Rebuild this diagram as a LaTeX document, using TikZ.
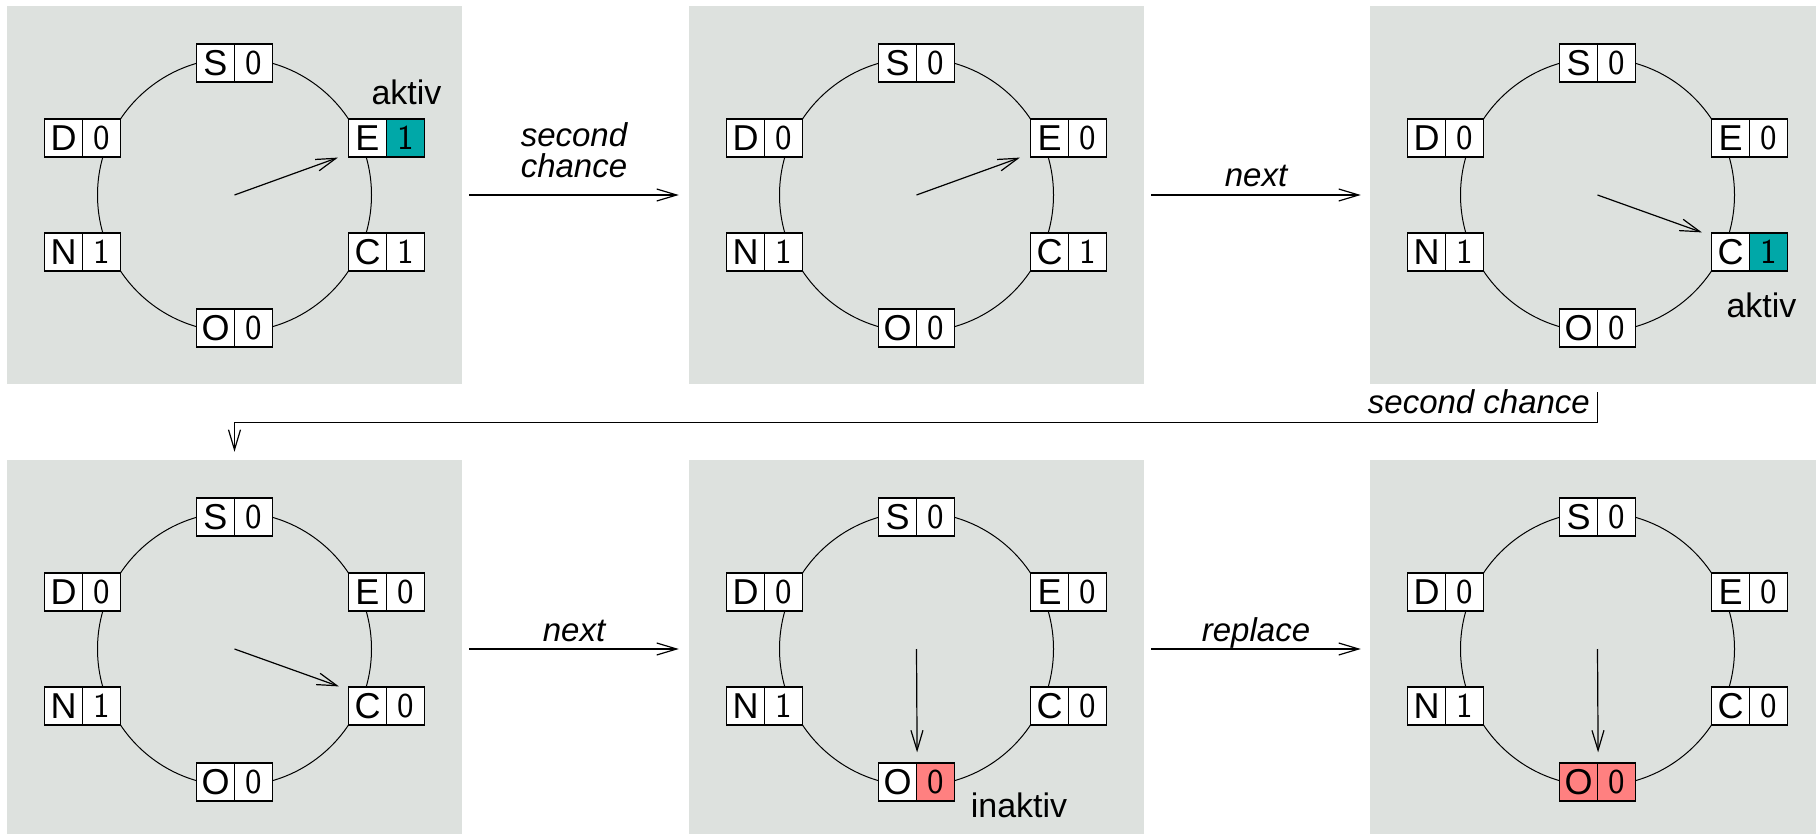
\documentclass[tikz,border=0pt]{standalone}
\usepackage{fontspec}
\setmainfont{Liberation Sans}
\usetikzlibrary{arrows.meta}
\definecolor{panelgray}{RGB}{221,225,222}
\definecolor{activeteal}{RGB}{0,168,168}
\definecolor{inactivered}{RGB}{255,128,128}
\newcommand\cellbox[7]{%
  \node[lettercell, fill=#6] (#1l) at ({#2-19},#3) {#4};
  \node[bitcell, fill=#7] (#1b) at ({#2+19},#3) {#5};}
\begin{document}
\begin{tikzpicture}[x=1pt,y=-1pt,
  panel/.style={fill=panelgray, draw=none, minimum width=455pt, minimum height=378pt, inner sep=0pt},
  lettercell/.style={draw=black, line width=1.2pt, minimum width=38pt, minimum height=38pt, inner sep=0pt, font=\fontsize{36}{36}\selectfont},
  bitcell/.style={lettercell, font=\sffamily\fontsize{35}{35}\selectfont},
  ring/.style={line width=1pt},
  ptr/.style={line width=1.2pt, -{Straight Barb[length=20pt,width=12pt,line width=1.2pt]}},
  flow/.style={ptr},
  lab/.style={font=\fontsize{33}{31}\selectfont\itshape, inner sep=0pt},
  note/.style={font=\fontsize{34}{34}\selectfont, inner sep=0pt, anchor=base},
]
\clip (0,0) rectangle (1816,834);
\useasboundingbox (0,0) rectangle (1816,834);
\fill[white] (0,0) rectangle (1816,834);

% panels
\node[panel] (p1) at (234.5,195) {};
\node[panel] (p2) at (916.5,195) {};
\node[panel] (p3) at (1597.5,195) {};
\node[panel] (p4) at (234.5,649) {};
\node[panel] (p5) at (916.5,649) {};
\node[panel] (p6) at (1597.5,649) {};

% panel 1
\begin{scope}[shift={(p1.center)}]
  \coordinate (p1c) at (0,0);
  \draw[ring] (p1c) circle[radius=137];
  \cellbox{p1S}{0}{-132}{S}{0}{white}{white}
  \cellbox{p1E}{152}{-57}{E}{1}{white}{activeteal}
  \cellbox{p1C}{152}{57}{C}{1}{white}{white}
  \cellbox{p1O}{0}{133}{O}{0}{white}{white}
  \cellbox{p1N}{-152}{57}{N}{1}{white}{white}
  \cellbox{p1D}{-152}{-57}{D}{0}{white}{white}
  \node[note] (p1note) at (172,-90) {aktiv};
  \draw[ptr] (p1c) -- ([xshift=-10pt]p1El.south west);
\end{scope}

% panel 2
\begin{scope}[shift={(p2.center)}]
  \coordinate (p2c) at (0,0);
  \draw[ring] (p2c) circle[radius=137];
  \cellbox{p2S}{0}{-132}{S}{0}{white}{white}
  \cellbox{p2E}{152}{-57}{E}{0}{white}{white}
  \cellbox{p2C}{152}{57}{C}{1}{white}{white}
  \cellbox{p2O}{0}{133}{O}{0}{white}{white}
  \cellbox{p2N}{-152}{57}{N}{1}{white}{white}
  \cellbox{p2D}{-152}{-57}{D}{0}{white}{white}
  \draw[ptr] (p2c) -- ([xshift=-10pt]p2El.south west);
\end{scope}

% panel 3
\begin{scope}[shift={(p3.center)}]
  \coordinate (p3c) at (0,0);
  \draw[ring] (p3c) circle[radius=137];
  \cellbox{p3S}{0}{-132}{S}{0}{white}{white}
  \cellbox{p3E}{152}{-57}{E}{0}{white}{white}
  \cellbox{p3C}{152}{57}{C}{1}{white}{activeteal}
  \cellbox{p3O}{0}{133}{O}{0}{white}{white}
  \cellbox{p3N}{-152}{57}{N}{1}{white}{white}
  \cellbox{p3D}{-152}{-57}{D}{0}{white}{white}
  \node[note] (p3note) at (164,123) {aktiv};
  \draw[ptr] (p3c) -- ([xshift=-9pt]p3Cl.north west);
\end{scope}

% panel 4
\begin{scope}[shift={(p4.center)}]
  \coordinate (p4c) at (0,0);
  \draw[ring] (p4c) circle[radius=137];
  \cellbox{p4S}{0}{-132}{S}{0}{white}{white}
  \cellbox{p4E}{152}{-57}{E}{0}{white}{white}
  \cellbox{p4C}{152}{57}{C}{0}{white}{white}
  \cellbox{p4O}{0}{133}{O}{0}{white}{white}
  \cellbox{p4N}{-152}{57}{N}{1}{white}{white}
  \cellbox{p4D}{-152}{-57}{D}{0}{white}{white}
  \draw[ptr] (p4c) -- ([xshift=-9pt]p4Cl.north west);
\end{scope}

% panel 5
\begin{scope}[shift={(p5.center)}]
  \coordinate (p5c) at (0,0);
  \draw[ring] (p5c) circle[radius=137];
  \cellbox{p5S}{0}{-132}{S}{0}{white}{white}
  \cellbox{p5E}{152}{-57}{E}{0}{white}{white}
  \cellbox{p5C}{152}{57}{C}{0}{white}{white}
  \cellbox{p5O}{0}{133}{O}{0}{white}{inactivered}
  \cellbox{p5N}{-152}{57}{N}{1}{white}{white}
  \cellbox{p5D}{-152}{-57}{D}{0}{white}{white}
  \node[note] (p5note) at (102.5,168) {inaktiv};
  \draw[ptr] (p5c) -- ([yshift=10pt]p5Ol.north east);
\end{scope}

% panel 6
\begin{scope}[shift={(p6.center)}]
  \coordinate (p6c) at (0,0);
  \draw[ring] (p6c) circle[radius=137];
  \cellbox{p6S}{0}{-132}{S}{0}{white}{white}
  \cellbox{p6E}{152}{-57}{E}{0}{white}{white}
  \cellbox{p6C}{152}{57}{C}{0}{white}{white}
  \cellbox{p6O}{0}{133}{O}{0}{inactivered}{inactivered}
  \cellbox{p6N}{-152}{57}{N}{1}{white}{white}
  \cellbox{p6D}{-152}{-57}{D}{0}{white}{white}
  \draw[ptr] (p6c) -- ([yshift=10pt]p6Ol.north east);
\end{scope}

% transitions
\draw[flow] ([xshift=7pt]p1.east) -- node[lab, midway, anchor=south, yshift=17pt, align=center] (t1) {second\\chance} ([xshift=-10pt]p2.west);
\draw[flow] ([xshift=7pt]p2.east) -- node[lab, midway, anchor=base, yshift=8pt] (t2) {next} ([xshift=-9pt]p3.west);
\draw[flow] ([yshift=-8pt]p3.south) -- ++(0,30) node[lab, anchor=base east, xshift=-7pt, yshift=9pt] (t3) {second chance} -| ([yshift=8pt]p4.north);
\draw[flow] ([xshift=7pt]p4.east) -- node[lab, midway, anchor=base, yshift=8pt] (t4) {next} ([xshift=-10pt]p5.west);
\draw[flow] ([xshift=7pt]p5.east) -- node[lab, midway, anchor=base, yshift=8pt] (t5) {replace} ([xshift=-9pt]p6.west);
\end{tikzpicture}
\end{document}
